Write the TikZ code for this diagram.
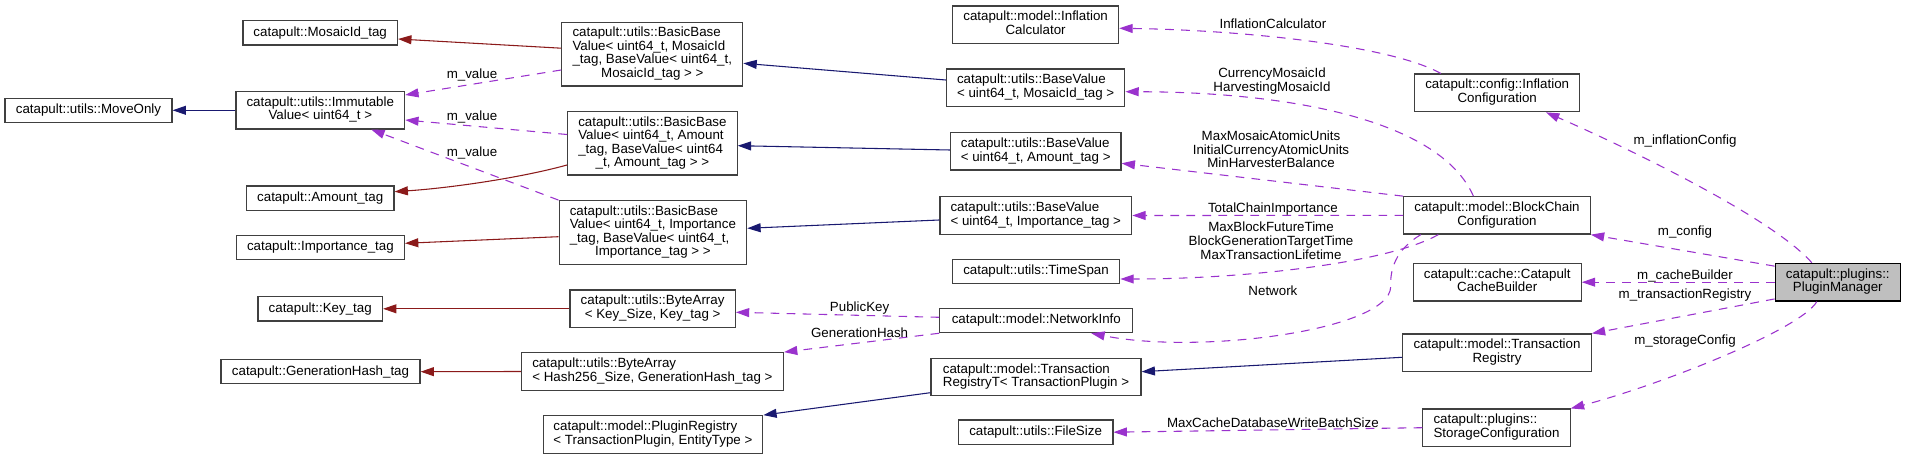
\documentclass[tikz,border=0pt]{standalone}
\usepackage{fontspec}
\setmainfont{Liberation Sans}
\usetikzlibrary{arrows.meta,calc}
\definecolor{inhc}{HTML}{191970}
\definecolor{tplc}{HTML}{8B1A1A}
\definecolor{usec}{HTML}{9A32CD}
\definecolor{boxc}{HTML}{404040}
\definecolor{pmfill}{HTML}{BFBFBF}
\newcommand{\lc}[1]{\multicolumn{1}{@{}c@{}}{#1}}
\newcommand{\ml}[1]{\begin{tabular}{@{}l@{}}#1\end{tabular}}
\begin{document}
\begin{tikzpicture}[x=0.75pt,y=-0.75pt,
  box/.style={draw=boxc, line width=0.9pt, fill=white, inner sep=0pt, font=\fontsize{10}{9.9}\selectfont},
  sz/.style 2 args={minimum width=#1*0.75pt, minimum height=#2*0.75pt},
  lbl/.style={inner sep=0pt, align=center, font=\fontsize{10}{10.2}\selectfont},
  tip/.style={-{Triangle[length=10pt,width=6.7pt]}},
  inh/.style={tip, color=inhc, line width=0.8pt},
  tpl/.style={tip, color=tplc, line width=0.8pt},
  use/.style={tip, color=usec, line width=0.8pt, dash pattern=on 6.5pt off 5.5pt},
]
\useasboundingbox (0,0) rectangle (1906,459);

% column 1
\node[box,sz={167}{24.3}] (moveonly) at (88.5,110.3) {catapult::utils::MoveOnly};
% column 2
\node[box,sz={168.6}{37.3}] (immut) at (320.3,110.3) {\ml{catapult::utils::Immutable\\\lc{Value< uint64\_t >}}};
\node[box,sz={154.6}{24.3}] (mosaictag) at (320.2,32.8) {catapult::MosaicId\_tag};
\node[box,sz={147.5}{24.3}] (amounttag) at (320.2,198.2) {catapult::Amount\_tag};
\node[box,sz={168}{24.3}] (importancetag) at (320.4,247.5) {catapult::Importance\_tag};
\node[box,sz={124.6}{24.3}] (keytag) at (320.2,308.8) {catapult::Key\_tag};
\node[box,sz={199}{24.3}] (genhashtag) at (320.5,371.7) {catapult::GenerationHash\_tag};
% column 3
\node[box,sz={181}{63.7}] (bbmosaic) at (652.3,54.2) {\ml{catapult::utils::BasicBase\\Value< uint64\_t, MosaicId\\\_tag, BaseValue< uint64\_t,\\\lc{MosaicId\_tag > >}}};
\node[box,sz={169.5}{63.3}] (bbamount) at (652.4,143.4) {\ml{catapult::utils::BasicBase\\Value< uint64\_t, Amount\\\_tag, BaseValue< uint64\\\lc{\_t, Amount\_tag > >}}};
\node[box,sz={187.6}{64}] (bbimportance) at (652.9,232.7) {\ml{catapult::utils::BasicBase\\Value< uint64\_t, Importance\\\_tag, BaseValue< uint64\_t,\\\lc{Importance\_tag > >}}};
\node[box,sz={165.3}{37.7}] (bakey) at (652.6,308.8) {\ml{catapult::utils::ByteArray\\\lc{< Key\_Size, Key\_tag >}}};
\node[box,sz={262}{37.6}] (bahash) at (652.4,371.5) {\ml{catapult::utils::ByteArray\\\lc{< Hash256\_Size, GenerationHash\_tag >}}};
\node[box,sz={219.6}{37.6}] (pluginreg) at (652.9,434.5) {\ml{catapult::model::PluginRegistry\\\lc{< TransactionPlugin, EntityType >}}};
% column 4
\node[box,sz={166.1}{37.7}] (infcalc) at (1035.6,24.9) {\ml{catapult::model::Inflation\\\lc{Calculator}}};
\node[box,sz={178.4}{37.3}] (bvmosaic) at (1035.6,87.7) {\ml{catapult::utils::BaseValue\\\lc{< uint64\_t, MosaicId\_tag >}}};
\node[box,sz={170.7}{37.3}] (bvamount) at (1035.7,151.4) {\ml{catapult::utils::BaseValue\\\lc{< uint64\_t, Amount\_tag >}}};
\node[box,sz={191.8}{37.6}] (bvimportance) at (1035.8,215.5) {\ml{catapult::utils::BaseValue\\\lc{< uint64\_t, Importance\_tag >}}};
\node[box,sz={167.6}{24.3}] (timespan) at (1036,271.5) {catapult::utils::TimeSpan};
\node[box,sz={193}{24.3}] (netinfo) at (1036.3,320.5) {catapult::model::NetworkInfo};
\node[box,sz={210}{37.4}] (trt) at (1036,377) {\ml{catapult::model::Transaction\\\lc{RegistryT< TransactionPlugin >}}};
\node[box,sz={154.6}{24.3}] (filesize) at (1035.6,432.2) {catapult::utils::FileSize};
% column 5
\node[box,sz={164.9}{37.7}] (infconfig) at (1497.2,92.9) {\ml{catapult::config::Inflation\\\lc{Configuration}}};
\node[box,sz={186.5}{37.3}] (blockchain) at (1497,215.4) {\ml{catapult::model::BlockChain\\\lc{Configuration}}};
\node[box,sz={168}{37.7}] (cachebuilder) at (1497.2,282.2) {\ml{catapult::cache::Catapult\\\lc{CacheBuilder}}};
\node[box,sz={188.5}{37.7}] (txreg) at (1497,352.9) {\ml{catapult::model::Transaction\\\lc{Registry}}};
\node[box,sz={147.3}{37.3}] (storage) at (1496.5,427.7) {\ml{catapult::plugins::\\\lc{StorageConfiguration}}};
% column 6
\node[box,sz={125.3}{37.7},fill=pmfill,draw=black] (pluginmgr) at (1837.8,282.2) {\ml{catapult::plugins::\\\lc{PluginManager}}};

% inheritance edges
\draw[inh] (immut.west) -- (moveonly.east);
\draw[inh] ($(bvmosaic.west)+(0,-7.7)$) -- ($(bbmosaic.east)+(0,9.1)$);
\draw[inh] ($(bvamount.west)+(0,-1.4)$) -- ($(bbamount.east)+(0,2.3)$);
\draw[inh] ($(bvimportance.west)+(0,4.5)$) -- ($(bbimportance.east)+(0,-4.4)$);
\draw[inh] ($(trt.west)+(0,15.7)$) -- (pluginreg.north east);
\draw[inh] ($(txreg.west)+(0,4.4)$) -- ($(trt.east)+(0,-5.3)$);

% template edges
\draw[tpl] ($(bbmosaic.west)+(0,-6)$) -- ($(mosaictag.east)+(0,6.2)$);
\draw[tpl] ($(bbamount.west)+(0,21.6)$) .. controls (520,178) and (450,188) .. ($(amounttag.east)+(0,-6.5)$);
\draw[tpl] ($(bbimportance.west)+(0,4)$) -- ($(importancetag.east)+(0,-4.2)$);
\draw[tpl] (bakey.west) -- (keytag.east);
\draw[tpl] (bahash.west) -- (genhashtag.east);

% usage edges
\draw[use] ($(bbmosaic.west)+(0,15.8)$) -- ($(immut.east)+(0,-15.3)$);
\draw[use] ($(bbamount.west)+(0,-8.9)$) -- ($(immut.east)+(0,9.7)$);
\draw[use] (bbimportance.north west) -- ($(immut.south)+(51,0)$);
\draw[use] ($(netinfo.west)+(0,-3.2)$) -- ($(bakey.east)+(0,3.5)$);
\draw[use] (netinfo.south west) -- (bahash.north east);
\draw[use] ($(infconfig.north)+(-56.4,0)$) .. controls (1390,45) and (1240,30) .. ($(infcalc.east)+(0,3.4)$);
\draw[use] ($(blockchain.north)+(-23.6,0)$) .. controls (1440,120) and (1290,92) .. ($(bvmosaic.east)+(0,4)$);
\draw[use] (blockchain.north west) -- ($(bvamount.east)+(0,11.9)$);
\draw[use] (blockchain.west) -- (bvimportance.east);
\draw[use] ($(blockchain.south)+(-58.7,0)$) .. controls (1390,262) and (1250,279) .. ($(timespan.east)+(0,7.5)$);
\draw[use] ($(blockchain.south)+(-76.2,0)$) .. controls (1395,250) and (1390,270) .. (1390.7,286.7)
   .. controls (1390,330) and (1200,355) .. ($(netinfo.south)+(55,0)$);
\draw[use] ($(pluginmgr.north)+(-26,0)$) .. controls (1770,215) and (1610,140) .. ($(infconfig.south)+(48.8,0)$);
\draw[use] ($(pluginmgr.north west)+(0,3.4)$) -- (blockchain.south east);
\draw[use] (pluginmgr.west) -- (cachebuilder.east);
\draw[use] ($(pluginmgr.south west)+(0,-2.7)$) -- (txreg.north east);
\draw[use] ($(pluginmgr.south)+(-21,0)$) .. controls (1800,330) and (1660,385) .. (storage.north east);
\draw[use] (storage.west) -- (filesize.east);

% labels
\node[lbl] (l1) at (472,75) {m\_value};
\node[lbl] (l2) at (472,116.7) {m\_value};
\node[lbl] (l3) at (472,152.7) {m\_value};
\node[lbl] (l4) at (859.6,307.7) {PublicKey};
\node[lbl] (l5) at (859.6,332.3) {GenerationHash};
\node[lbl] (l6) at (1272.9,24) {InflationCalculator};
\node[lbl] (l7) at (1272,81) {CurrencyMosaicId\\HarvestingMosaicId};
\node[lbl] (l8) at (1271,149.3) {MaxMosaicAtomicUnits\\InitialCurrencyAtomicUnits\\MinHarvesterBalance};
\node[lbl] (l9) at (1272.9,209) {TotalChainImportance};
\node[lbl] (l10) at (1271,240.7) {MaxBlockFutureTime\\BlockGenerationTargetTime\\MaxTransactionLifetime};
\node[lbl] (l11) at (1272.9,291) {Network};
\node[lbl] (l12) at (1272.9,422.3) {MaxCacheDatabaseWriteBatchSize};
\node[lbl] (l13) at (1685,140.7) {m\_inflationConfig};
\node[lbl] (l14) at (1685,232.3) {m\_config};
\node[lbl] (l15) at (1685,275.7) {m\_cacheBuilder};
\node[lbl] (l16) at (1685,295) {m\_transactionRegistry};
\node[lbl] (l17) at (1685,340.7) {m\_storageConfig};
\end{tikzpicture}
\end{document}
